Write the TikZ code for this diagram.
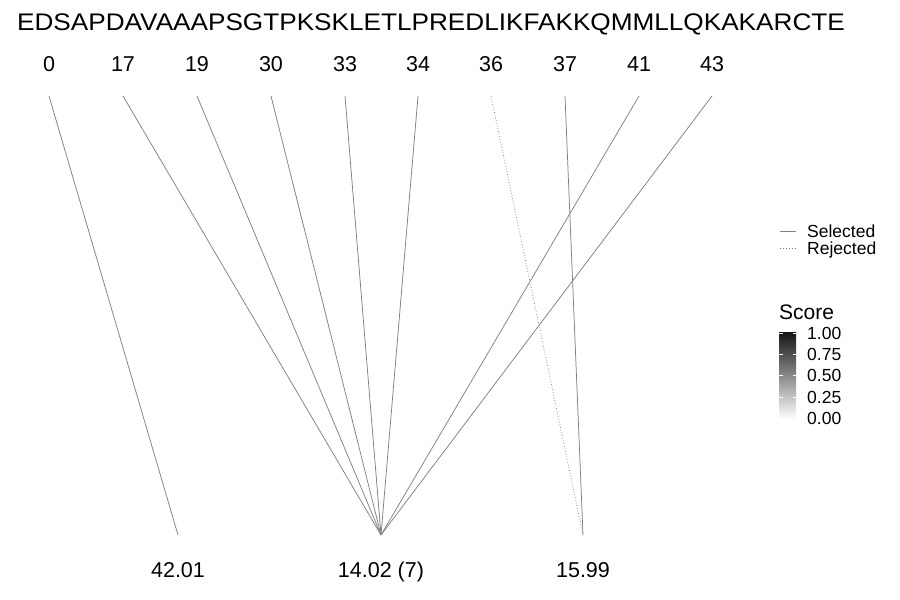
\documentclass[tikz,border=0pt]{standalone}
\usepackage{fontspec}
\setmainfont{Liberation Sans}
\begin{document}
\begin{tikzpicture}[x=1pt,y=-1pt,
  seqtxt/.style={inner sep=0pt,anchor=base,font=\fontsize{24}{28}\selectfont},
  numtxt/.style={inner sep=0pt,anchor=base,font=\fontsize{21.5}{24}\selectfont},
  legtxt/.style={inner sep=0pt,anchor=base west,font=\fontsize{17.5}{20}\selectfont},
  ticktxt/.style={inner sep=0pt,anchor=west,font=\fontsize{17.5}{20}\selectfont},
  sel/.style={draw=black!50,line width=0.75pt},
  rej/.style={draw=black!50,line width=0.75pt,dotted},
  legsel/.style={draw=black!50,line width=1.2pt},
  legrej/.style={draw=black!50,line width=0.9pt,dotted}]
\useasboundingbox (0,0) rectangle (900,600);
\node[seqtxt] (seq) at (431,30) {\scalebox{1.09}[1]{EDSAPDAVAAAPSGTPKSKLETLPREDLIKFAKKQMMLLQKAKARCTE}};
% top labels
\foreach \n/\x in {0/49,17/123,19/197,30/271,33/345,34/418,36/491,37/565,41/639,43/712}{
  \node[numtxt] (t\n) at (\x,71) {\n};
  \coordinate (s\n) at (\x,96);
}
% bottom labels
\node[numtxt] (b1) at (178,577) {42.01};
\node[numtxt] (b2) at (381,577) {14.02 (7)};
\node[numtxt] (b3) at (583,577) {15.99};
\coordinate (e1) at (178,535);
\coordinate (e2) at (381,535);
\coordinate (e3) at (583,535);
% connectors
\draw[sel] (s0) -- (e1);
\foreach \n in {17,19,30,33,34,41,43}{\draw[sel] (s\n) -- (e2);}
\draw[rej] (s36) -- (e3);
\draw[sel] (s37) -- (e3);
% legend
\coordinate (la1) at (780,231.5); \coordinate (la2) at (796,231.5);
\coordinate (lb1) at (780,248); \coordinate (lb2) at (796,248);
\draw[legsel] (la1) -- (la2);
\draw[legrej] (lb1) -- (lb2);
\node[legtxt] (lsel) at (807,237) {Selected};
\node[legtxt] (lrej) at (807,254) {Rejected};
% colour bar
\node[inner sep=0pt,anchor=base west,font=\fontsize{21}{24}\selectfont] (score) at (779,319) {Score};
\shade[top color=black!92,bottom color=white] (779,332) rectangle (796,419);
\foreach \v/\y in {1.00/333,0.75/354,0.50/375.5,0.25/397,0.00/418.5}{
  \node[ticktxt] at (807,\y) {\v};
  \draw[white,line width=0.5pt] (779,\y) -- (782.5,\y) (792.5,\y) -- (796,\y);
}
\end{tikzpicture}
\end{document}
